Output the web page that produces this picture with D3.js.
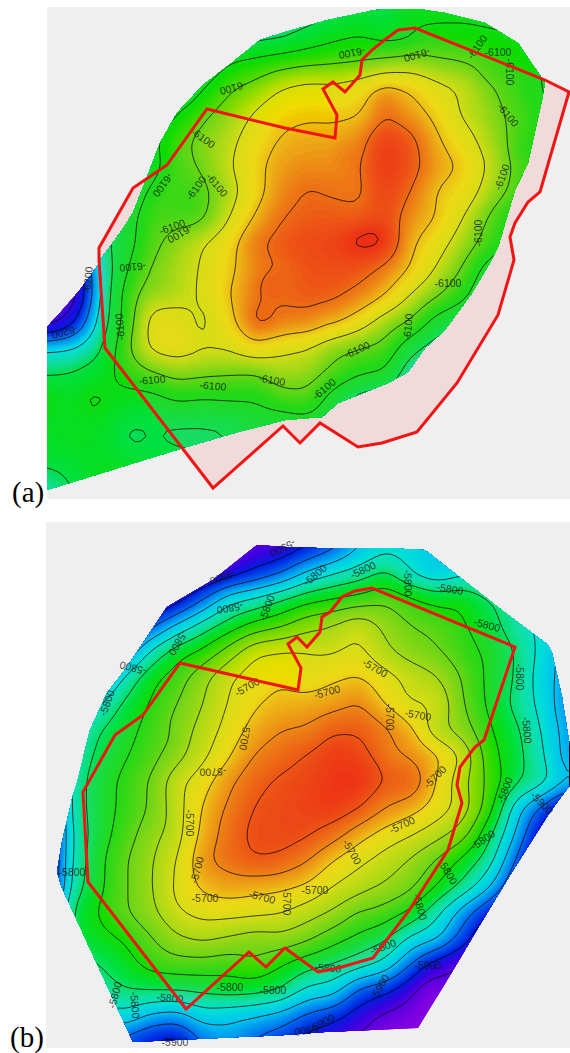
<!DOCTYPE html>
<html><head><meta charset="utf-8">
<script src="https://cdn.jsdelivr.net/npm/d3@7"></script>
<style>html,body{margin:0;padding:0;background:#fff}svg{display:block}</style>
</head><body><svg id="c" width="570" height="1053"></svg>
<script>
// Structure height in feet relative to the panel's base level.
const baseA = -6100, baseB = -5700;
const gridA = [
[-70,-70,-70,-70,-70,-70,-60,-52,-52,-50,-50,-45,-35,-35,-28,-25,-25,-25,-25,-25,-25],
[-70,-70,-70,-70,-70,-70,-60,-52,-48,-45,-35,-25,-20,-28,-15,-15,-15,-18,-20,-22,-25],
[-70,-70,-70,-70,-70,-60,-42,-20,-14,-8,-4,-2,0,5,8,3,0,-6,-12,-20,-25],
[-70,-70,-70,-70,-60,-48,-20,-2,6,20,26,24,30,42,38,25,18,3,-10,-20,-30],
[-70,-70,-70,-60,-45,-18,-3,8,22,35,38,37,38,57,48,35,17,8,-5,-15,-30],
[-70,-70,-60,-50,-25,-5,5,15,30,42,45,45,52,78,66,42,28,12,-5,-18,-30],
[-70,-65,-55,-50,-30,-5,3,18,35,48,52,52,58,80,68,48,38,18,-3,-15,-30],
[-80,-60,-55,-40,-15,-2,-3,12,32,52,62,58,56,75,60,38,32,12,-5,-20,-30],
[-90,-60,-50,-30,-8,-3,-2,19,42,60,65,66,64,72,50,40,20,-2,-22,-40,-40],
[-110,-70,-48,-30,-5,8,20,32,58,66,72,74,82,80,42,28,10,-8,-25,-40,-40],
[-170,-130,-60,-22,2,12,22,36,52,60,68,70,68,55,38,18,-2,-30,-40,-40,-40],
[-170,-130,-62,-12,12,14,22,40,56,60,66,64,54,40,18,2,-15,-40,-40,-40,-40],
[-130,-105,-55,-14,28,28,15,34,60,58,58,44,30,10,-1,-30,-40,-40,-40,-40,-40],
[-62,-60,-45,-5,25,30,22,22,34,24,20,6,0,-5,-35,-50,-50,-40,-40,-40,-40],
[-42,-38,-30,-12,-3,6,3,1,-1,10,8,-5,-18,-22,-55,-55,-45,-45,-45,-45,-45],
[-22,-28,-18,-28,-28,-18,-21,-19,-20,-8,-5,-30,-50,-55,-55,-45,-45,-45,-45,-45,-45],
[-28,-26,-28,-38,-40,-42,-42,-40,-30,-35,-30,-35,-40,-45,-45,-45,-45,-45,-45,-45,-45],
[-30,-28,-28,-35,-38,-40,-40,-40,-35,-40,-40,-40,-45,-45,-45,-45,-45,-45,-45,-45,-45],
[-48,-38,-26,-24,-28,-30,-35,-40,-40,-40,-40,-40,-45,-45,-45,-45,-45,-45,-45,-45,-45],
[-52,-42,-28,-24,-28,-30,-35,-40,-40,-40,-40,-40,-45,-45,-45,-45,-45,-45,-45,-45,-45]
];
const gridB = [
[-215,-215,-215,-215,-215,-215,-215,-210,-205,-200,-190,-170,-145,-125,-130,-135,-135,-130,-130,-130,-130],
[-215,-215,-215,-215,-215,-215,-215,-210,-200,-195,-180,-165,-140,-125,-130,-135,-135,-130,-130,-130,-130],
[-215,-215,-215,-215,-215,-210,-205,-190,-175,-160,-135,-120,-110,-95,-120,-135,-125,-125,-125,-130,-130],
[-215,-215,-215,-215,-210,-190,-160,-125,-115,-100,-85,-78,-72,-62,-75,-85,-82,-100,-110,-125,-130],
[-215,-215,-215,-190,-165,-135,-110,-90,-72,-62,-45,-38,-22,-45,-60,-65,-78,-92,-110,-125,-135],
[-215,-215,-190,-160,-115,-88,-75,-50,-22,-18,-18,-20,-15,-35,-50,-58,-72,-82,-100,-125,-150],
[-215,-190,-160,-115,-85,-70,-45,-22,-8,-2,-12,-3,2,-12,-25,-38,-62,-85,-100,-130,-150],
[-215,-150,-120,-95,-78,-60,-40,-18,-2,5,8,12,22,-2,-17,-21,-60,-84,-105,-125,-155],
[-210,-125,-100,-88,-72,-52,-32,-12,8,20,22,38,38,25,3,-35,-50,-78,-95,-120,-150],
[-210,-115,-95,-82,-68,-48,-25,-2,22,32,42,52,50,25,18,5,-22,-72,-92,-115,-150],
[-205,-110,-90,-75,-58,-25,-8,16,35,44,48,55,58,40,38,-2,-35,-65,-95,-110,-140],
[-205,-110,-90,-75,-58,-28,2,24,42,46,50,55,42,20,8,-8,-28,-70,-130,-165,-200],
[-205,-115,-90,-70,-48,-28,6,30,46,50,44,30,8,-8,-18,-32,-50,-95,-140,-190,-205],
[-200,-115,-85,-62,-42,-20,15,32,40,36,22,0,-15,-28,-42,-62,-85,-110,-160,-205,-205],
[-200,-110,-85,-62,-42,-12,5,12,8,5,-2,-20,-32,-42,-55,-80,-105,-135,-180,-205,-205],
[-180,-95,-78,-62,-45,-22,-12,-12,-14,-18,-30,-42,-58,-68,-82,-115,-150,-180,-205,-205,-205],
[-170,-95,-85,-78,-62,-42,-35,-42,-50,-45,-55,-72,-85,-95,-125,-135,-170,-205,-205,-205,-205],
[-170,-110,-100,-88,-72,-68,-68,-72,-62,-78,-92,-100,-110,-125,-160,-190,-205,-205,-205,-205,-205],
[-170,-120,-110,-100,-98,-98,-95,-90,-92,-100,-125,-130,-165,-175,-195,-205,-205,-205,-205,-205,-205],
[-170,-140,-130,-125,-145,-150,-130,-135,-140,-148,-165,-175,-190,-205,-210,-210,-210,-210,-210,-210,-210],
[-170,-170,-170,-170,-185,-190,-160,-150,-165,-175,-190,-195,-205,-215,-215,-215,-215,-215,-215,-215,-215]
];
// Small closed features: map x, map y, x size, y size, height change
const spotsA = [[269,285,10,12,12],[260,318,8,12,10],[160,287,9,8,-7],[217,307,5,6,-7],[368,236,18,11,8],[385,102,11,11,10],[345,152,5,6,12],[186,200,16,24,-9],[90,400,9,11,8],[133,437,8,6,-12],[50,395,7,10,6],[522,150,6,6,-12],[490,73,6,6,-10],[405,38,10,10,-10],[378,17,10,6,-12],[305,322,3,12,-16],[322,320,3,10,-14],[290,325,3,10,-12]];
const spotsB = [[410,692,8,8,-8],[322,645,12,8,-7],[410,735,5,5,8],[378,765,10,6,8],[335,750,5,5,10],[170,738,9,8,-7],[160,823,7,6,-6],[180,882,9,6,-7],[230,822,4,4,7],[269,867,5,4,7],[228,874,8,4,-8],[277,828,10,5,-7],[357,917,10,6,-8],[425,568,6,6,-8],[428,992,12,25,-10],[470,655,6,5,-8]];
// Colour ramps: [height, colour]
const rampALevels = [-160,-125,-100,-80,-62,-50,-40,-15,0,10,20,32,42,52,66,80];
const rampBLevels = [-215,-195,-180,-160,-142,-125,-110,-95,-80,-60,-40,-20,-5,5,22,40,56];
const rampColoursA = ["#8a00e0","#4000e0","#0020e0","#0080f0","#00e0e8","#10dca0","#00e040","#10dc00","#60d800","#a0dc00","#d8e000","#f0dc00","#f0b000","#f08000","#f04800","#f02000"];
const rampColoursB = ["#8a00e0","#4000e0","#0020e0","#0070f0","#00c0f0","#00e0d8","#10e0a0","#00e040","#10dc00","#60d800","#a0dc00","#d8e000","#f0dc00","#f0b000","#f07800","#f04800","#f02000"];
// Mapped extent of the data (map units)
const extentA = [[47,327],[60,313],[80,290],[98,265],[100,260],[120,233],[133,213],[147,177],[160,143],[177,113],[203,85],[233,62],[260,40],[285,32],[328,20],[375,10],[418,9],[445,13],[485,23],[518,43],[545,83],[542,100],[528,163],[515,190],[498,247],[490,263],[472,293],[445,330],[425,348],[408,372],[388,383],[338,403],[322,417],[285,420],[238,432],[183,448],[47,490]];
const extentB = [[257,545],[285,547],[318,548],[385,548],[425,550],[512,618],[548,645],[552,653],[562,697],[570,747],[570,785],[550,812],[512,872],[478,928],[452,972],[418,1028],[325,1032],[285,1035],[133,1042],[62,888],[57,872],[62,842],[73,795],[77,783],[90,730],[107,693],[127,667],[147,637],[167,607],[213,580]];
// Lease outlines (map units)
const boundaryA = [[207,109],[285,128],[335,138],[337,115],[323,89],[333,82],[345,92],[360,75],[362,60],[372,50],[382,42],[398,30],[415,28],[545,80],[569,92],[540,192],[528,202],[515,223],[510,237],[514,260],[498,315],[457,383],[417,432],[382,443],[358,447],[320,423],[300,443],[283,426],[213,488],[105,348],[99,260],[99,248],[133,188],[167,165]];
const boundaryB = [[180,663],[285,687],[298,690],[301,668],[288,644],[297,637],[307,647],[320,632],[322,617],[330,612],[342,597],[355,591],[372,588],[515,647],[484,740],[475,747],[460,767],[457,785],[462,803],[448,850],[408,912],[373,958],[338,968],[318,972],[285,948],[266,967],[249,952],[186,1009],[88,882],[83,792],[115,735],[143,715]];
// Contour annotations: text, map x, map y, angle
const notesA = [["-6100",233,88,165],["-6100",203,138,35],["-6100",217,185,50],["-6100",196,188,-55],["-6100",163,185,125],["-6100",172,227,-20],["-6100",180,234,150],
["-6100",352,53,170],["-6100",417,55,165],["-6100",477,47,-55],["-6100",498,52,0],["-6100",510,72,90],["-6100",508,115,50],["-6100",502,177,-70],["-6100",478,233,-90],
["-6100",133,267,175],["-6200",88,280,-85],["-6200",65,332,165],["-6100",120,327,-95],["-6100",152,380,-5],["-6100",213,386,5],["-6100",272,380,10],
["-6100",448,283,0],["-6100",408,327,-85],["-6100",357,350,-25],["-6100",324,389,-40]];
const notesB = [["-5900",283,548,155],["-5900",223,577,160],["-5800",230,608,170],["-5800",178,643,120],["-5800",133,668,195],["-5800",107,703,-70],["-5800",267,608,-70],
["-5700",247,687,-30],["-5700",245,737,100],["-5700",213,772,178],["-5800",315,575,-40],["-5800",363,570,-25],["-5800",408,583,88],["-5800",450,589,10],["-5800",487,625,15],["-5800",520,677,90],["-5800",527,730,85],["-5800",505,790,-70],
["-5700",327,692,-15],["-5700",375,668,30],["-5700",390,717,90],["-5700",418,715,10],["-5700",435,777,-45],["-5700",190,823,90],["-5700",197,870,-75],["-5700",205,898,0],["-5700",262,897,15],
["-5800",115,995,-75],["-5800",135,1005,85],["-5800",170,998,5],["-5800",230,987,0],["-5800",273,990,0],["-5900",175,1042,0],
["-5700",402,825,-25],["-5700",352,852,60],["-5700",315,890,0],["-5700",287,902,90],["-5800",483,840,-35],["-5800",448,872,60],["-5800",420,907,75],["-5800",383,947,-20],["-5800",328,968,5],
["-5900",428,965,0],["-5900",380,987,-60],["-5900",542,803,45],["-5900",322,1023,-30],["-5900",308,1030,170],["-5800",72,872,0]];
const panelLetters = ["(a)","(b)"];

const svg = d3.select("#c");
const defs = svg.append("defs");
const K = 5;
const lerp = (a,b,t)=>a+(b-a)*t;

function drawPanel(cfg){
  const ny = cfg.grid.length, nx = cfg.grid[0].length;
  const x = d3.scaleLinear().domain([47,567]).range([47,567]);
  const y = d3.scaleLinear().domain([cfg.y0, cfg.y0+26*(ny-1)]).range([cfg.y0, cfg.y0+26*(ny-1)]);
  const gx = d3.scaleLinear().domain([0,nx-1]).range([47,567]);
  const gy = d3.scaleLinear().domain([0,ny-1]).range(y.domain());
  const w = (nx-1)*K+1, h=(ny-1)*K+1;
  const vals = new Float64Array(w*h);
  for(let j=0;j<h;j++)for(let i=0;i<w;i++){
    const fx=i/K,fy=j/K,ix=Math.min(nx-2,Math.floor(fx)),iy=Math.min(ny-2,Math.floor(fy)),tx=fx-ix,ty=fy-iy;
    let v=lerp(lerp(cfg.grid[iy][ix],cfg.grid[iy][ix+1],tx),lerp(cfg.grid[iy+1][ix],cfg.grid[iy+1][ix+1],tx),ty);
    const mx=gx(fx),my=gy(fy);
    for(const s of cfg.spots){ const dx=(mx-s[0])/s[2],dy=(my-s[1])/s[3]; v+=s[4]*Math.exp(-(dx*dx+dy*dy)); }
    vals[j*w+i]=v;
  }
  d3.blur2({data:vals,width:w,height:h},1);
  const project = d3.geoTransform({point(px,py){
    this.stream.point(gx((px-0.5)/K), gy((py-0.5)/K));
  }});
  const path = d3.geoPath(project);
  const colour = d3.scaleLinear().domain(cfg.levels).range(cfg.colours).interpolate(d3.interpolateRgb).clamp(true);
  const lo = d3.min(vals), hi = d3.max(vals);
  const fine = d3.range(Math.floor(lo/2)*2, hi, 2);
  const cont = d3.contours().size([w,h]).smooth(true);

  const line = d3.line().x(d=>x(d[0])).y(d=>y(d[1])).curve(d3.curveLinearClosed);
  const g = svg.append("g");
  g.append("rect").attr("x",cfg.bg[0]).attr("y",cfg.bg[1]).attr("width",cfg.bg[2]).attr("height",cfg.bg[3]).attr("fill","#efefef");
  if(cfg.pink) g.append("path").attr("d",line(cfg.boundary)).attr("fill","#f0dada");
  const cid="clip"+cfg.name;
  defs.append("clipPath").attr("id",cid).append("path").attr("d",line(cfg.extent));
  const map = g.append("g").attr("clip-path",`url(#${cid})`);
  map.selectAll("path.band").data(cont.thresholds(fine)(vals)).join("path")
    .attr("class","band").attr("d",d=>path(d)).attr("fill",d=>colour(d.value)).attr("stroke",d=>colour(d.value)).attr("stroke-width",.4);
  const levels = d3.range(-220,100,20);
  map.append("path").attr("d",line(cfg.boundary)).attr("fill","#d8c8d0").attr("opacity",.1);
  map.selectAll("path.iso").data(cont.thresholds(levels)(vals)).join("path")
    .attr("class","iso").attr("d",d=>path(d)).attr("fill","none").attr("stroke","#000").attr("stroke-opacity",.72).attr("stroke-width",1);
  g.selectAll("text.note").data(cfg.notes).join("text").attr("class","note")
    .attr("transform",d=>`translate(${x(d[1])},${y(d[2])}) rotate(${d[3]})`)
    .attr("text-anchor","middle").attr("dy","0.35em")
    .attr("font-family","Liberation Sans").attr("font-size",10.5).attr("fill","#111").attr("fill-opacity",.8)
    .text(d=>d[0]);
  g.append("path").attr("d",line(cfg.boundary)).attr("fill","none").attr("stroke","#f01414").attr("stroke-width",3).attr("stroke-linejoin","miter");
  g.append("text").attr("x",cfg.letter[0]).attr("y",cfg.letter[1]).attr("font-family","Liberation Serif").attr("font-size",29).attr("fill","#000").text(cfg.text);
}
drawPanel({name:"A",grid:gridA,spots:spotsA,y0:10,levels:rampALevels,colours:rampColoursA,extent:extentA,boundary:boundaryA,notes:notesA,pink:true,bg:[47,7,523,492],letter:[12,502],text:panelLetters[0]});
drawPanel({name:"B",grid:gridB,spots:spotsB,y0:522,levels:rampBLevels,colours:rampColoursB,extent:extentB,boundary:boundaryB,notes:notesB,pink:false,bg:[46,522,524,526],letter:[10,1047],text:panelLetters[1]});
</script></body></html>
